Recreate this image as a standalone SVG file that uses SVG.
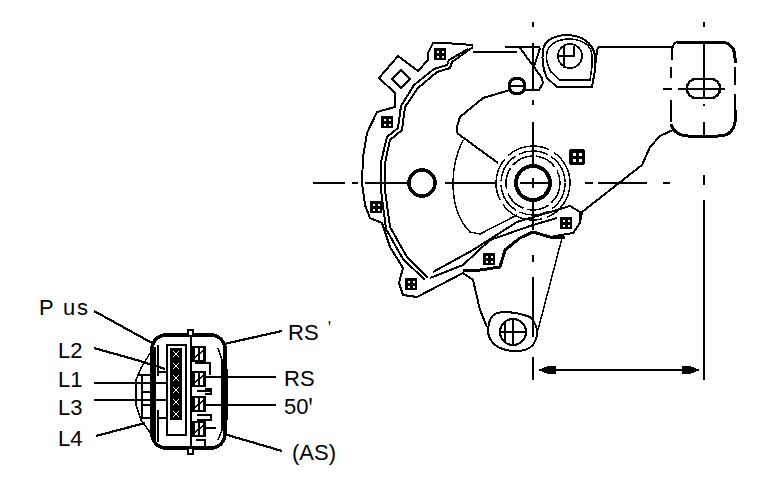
<svg xmlns="http://www.w3.org/2000/svg" width="768" height="488" viewBox="0 0 768 488" shape-rendering="crispEdges">
<style>
.l{fill:none;stroke:#000;stroke-width:1.5;stroke-linejoin:round;stroke-linecap:butt}
.m{fill:none;stroke:#000;stroke-width:2;stroke-linejoin:round}
.t{fill:none;stroke:#000;stroke-width:3;stroke-linejoin:round}
.c{fill:none;stroke:#000;stroke-width:2.2}
.b{fill:#000;stroke:none}
text{font-family:"Liberation Sans",Arial,sans-serif;font-size:22px;fill:#000}
</style>
<defs>
<g id="bolt"><rect x="-6" y="-6" width="12" height="12" rx="1" fill="#000"/><rect x="-3" y="-3" width="2" height="2" fill="#fff"/><rect x="1.500" y="-3" width="2" height="2" fill="#fff"/><rect x="-3" y="1.500" width="2" height="2" fill="#fff"/><rect x="1.500" y="1.500" width="2" height="2" fill="#fff"/></g>
<g id="contact"><rect x="-6" y="-6" width="12" height="12" fill="#000"/><path d="M-3-3L3 3M-3 3L3-3" stroke="#fff" stroke-width="1.400"/></g>
<g id="pin"><rect x="-5.500" y="-7" width="11" height="14" fill="none" stroke="#000" stroke-width="2.500"/><path d="M0-7V7M-5 4L5-4" stroke="#000" stroke-width="2"/></g>
</defs>

<g id="centerlines">
<path class="m" d="M313 183H345M352 183H358M365 183H410M445 183H497M585 183H593M598 183H647M663 183H670"/>
<path class="m" d="M533 22V27M533 43V90M533 100V105M533 122V165M533 200V230M533 255V262M533 277V337M533 357V380"/>
<path class="m" d="M704 22V27M704 42V98M704 104V106M704 122V136M704 175V185M704 200V380"/>
<path class="m" d="M663 89H672M678 89H725"/>
</g>

<g id="plate">
<path class="l" style="stroke-width:2" d="M473 45L445 43L433 43L428 53V60L418 71L398 56L379 78L395 93V107L377 112L367 133L363 157L362 183L365 205L370 218L382 223L390 247L403 268L399 283L403 295L417 297L463 273L473 280L480 310L487 327"/>
<path class="m" d="M473 47L452 62L450 68L437 72L418 88L405 107L402 130L390 140L385 163V183L385 190L390 227L407 257L428 278"/>
<path class="m" d="M468 49L449 60L447 65L434 69L414 85L401 106L398 128L387 137L381 162L381 190L386 229L403 259L425 280"/>
<path class="m" d="M433 272L473 250L517 222L570 206L580 212V223L573 233L550 237"/>
<path class="m" d="M430 278L463 265L490 240L533 225L557 218"/>
<path class="t" d="M463 271L480 270L500 267L505 250L520 238L533 232L550 237H565"/>
<path class="l" d="M562 238L538 330"/>
<path class="m" transform="rotate(45 401 79)" d="M394.500 72.500h13v13h-13z"/>
</g>

<g id="lower-boss">
<path class="m" d="M488 333Q488 316 497 313Q510 310 530 317Q538 325 537 335Q535 347 525 350Q513 353 500 348Q490 343 488 333Z"/>
<circle class="m" cx="513" cy="332" r="13"/>
<path class="m" d="M500 332H526M513 319V345M505 322V342" style="stroke-width:1.500"/>
</g>

<g id="hub">
<circle cx="533" cy="183" r="37" fill="none" stroke="#000" stroke-width="1.500" stroke-dasharray="44 5"/>
<circle cx="533" cy="183" r="32" fill="none" stroke="#000" stroke-width="1.500" stroke-dasharray="30 4"/>
<circle cx="533" cy="183" r="27" fill="none" stroke="#000" stroke-width="1.500" stroke-dasharray="22 4"/>
<circle cx="533" cy="183" r="17" fill="none" stroke="#000" stroke-width="4"/>
<path class="m" d="M520 183H548M533 178V188" style="stroke-width:1.500"/>
</g>

<g id="hole"><circle cx="422" cy="183" r="13" fill="none" stroke="#000" stroke-width="3.500"/></g>

<g id="sector">
<path class="l" d="M463 140Q453 160 453 183Q453 215 470 232L480 234L517 215"/>
<path class="m" d="M457 133L498 163"/>
<path class="l" style="stroke-width:2" d="M510 90L483 98L460 117L457 127L457 133"/>
</g>

<g id="top-fitting">
<path class="m" d="M473 52H517M505 47H540M520 48L542 78M540 48L533 70M542 78L543 83L539 90H523"/>
<circle class="m" cx="517" cy="86" r="8" style="stroke-width:3"/>
<path class="l" d="M510 86H524"/>
<path class="m" d="M543 50Q545 37 565 35Q590 35 595 55V70L592 87H557L547 78Q541 65 543 50Z"/>
<path class="l" d="M547 52Q550 41 567 39Q590 39 592 55V66L590 80H560L551 72Q545 62 547 52Z"/>
<circle class="m" cx="570" cy="56" r="12" style="stroke-width:1.800"/>
<path class="l" d="M558 56H574V46M564 45V68" style="stroke-width:1.800"/>
</g>

<g id="end-fitting">
<path class="m" d="M598 47H673"/>
<path class="m" d="M598 47Q596 55 595 70"/>
<path class="t" d="M677 42H722Q735 44 735 58V63M735 110V122Q733 136 718 136H688Q674 135 671 124"/>
<path class="m" d="M677 42Q672 44 672 52V60M671 67V78M671 100V122"/>
<path class="m" d="M735 67V85M735 94V118"/>
<rect x="687" y="79" width="33" height="19" rx="9" fill="none" stroke="#000" stroke-width="2.400"/>
<path class="l" style="stroke-width:2" d="M673 130L660 136L650 147L642 165L582 212L580 222"/>
</g>

<g id="bolts">
<use href="#bolt" x="440" y="54"/>
<use href="#bolt" x="387" y="122"/>
<use href="#bolt" x="577" y="157" transform="translate(577 157) scale(1.300) translate(-577 -157)"/>
<use href="#bolt" x="566" y="223"/>
<use href="#bolt" x="489" y="259"/>
<use href="#bolt" x="411" y="284"/>
<use href="#bolt" x="376" y="207"/>
</g>

<g id="dimension">
<path class="m" d="M542 370H695"/>
<path class="b" d="M538 370L548 366H556V374H548ZM700 370L690 366H682V374H690Z"/>
</g>

<g id="connector">
<rect x="152" y="335" width="73" height="113" rx="14" fill="none" stroke="#000" stroke-width="3.500"/>
<rect x="188" y="330" width="5" height="6" fill="#fff" stroke="#000" stroke-width="1.500"/>
<rect x="188" y="448" width="5" height="6" fill="#fff" stroke="#000" stroke-width="1.500"/>
<path class="l" d="M152 350L141 368L136 380V405L141 420L152 435M138 375H152V392H142V405H152M142 376V392M142 405V418H155"/>
<path class="m" d="M155 347V440M158 345V376M158 410V442M191 336V448"/>
<path class="m" d="M218 348L222 360V430L218 440" style="stroke-width:1.500"/>
<path class="t" d="M226 369V420"/>
<rect x="167" y="345" width="19" height="90" fill="none" stroke="#000" stroke-width="1.500"/>
<path class="l" d="M158 372H167M158 418H167"/>
<use href="#contact" x="176" y="354"/>
<use href="#contact" x="176" y="366"/>
<use href="#contact" x="176" y="378"/>
<use href="#contact" x="176" y="390"/>
<use href="#contact" x="176" y="402"/>
<use href="#contact" x="176" y="414"/>
<use href="#pin" x="199" y="354"/>
<use href="#pin" x="199" y="379"/>
<use href="#pin" x="199" y="404"/>
<use href="#pin" x="199" y="429"/>
<path class="l" d="M195 363H210V375M205 389H211V394H205M197 391H211M197 415H211V420H197M205 428H216M196 440H205V448"/>
</g>

<g id="leaders">
<path class="c" d="M94 311L152 343"/>
<path class="c" d="M94 348L140 361L165 369"/>
<path class="c" d="M94 383H168"/>
<path class="c" d="M94 400H168"/>
<path class="c" d="M96 436L145 423"/>
<path class="c" d="M224 344L282 331"/>
<path class="c" d="M203 377H276"/>
<path class="c" d="M203 405H276"/>
<path class="c" d="M224 434L282 451"/>
</g>

<g id="labels">
<text x="39" y="315" textLength="49">P us</text>
<text x="58" y="358">L2</text>
<text x="58" y="387">L1</text>
<text x="58" y="415">L3</text>
<text x="58" y="446">L4</text>
<text x="288" y="340">RS</text>
<text x="328" y="332" style="font-size:15px">ꞌ</text>
<text x="284" y="386">RS</text>
<text x="284" y="414">50ꞌ</text>
<text x="292" y="460">(AS)</text>
</g>
</svg>
